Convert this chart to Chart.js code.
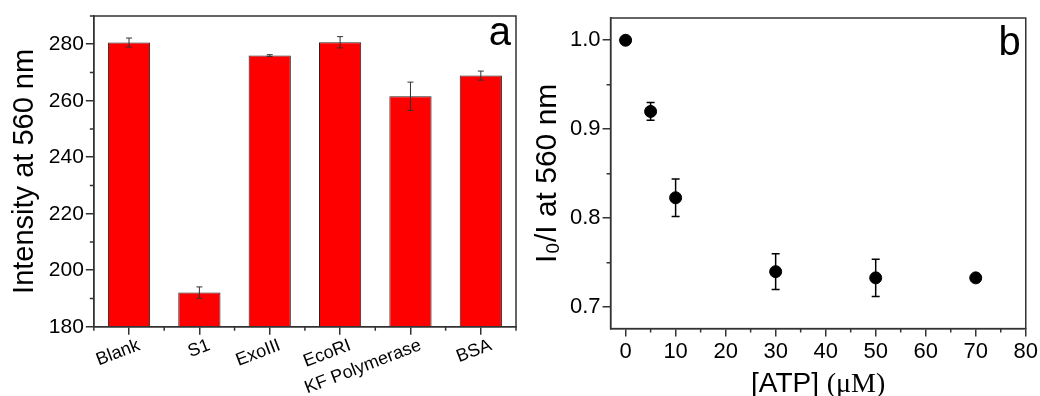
<!DOCTYPE html>
<html>
<head>
<meta charset="utf-8">
<title>Enzyme selectivity and ATP response</title>
<script src="https://cdn.jsdelivr.net/npm/chart.js@4.4.1/dist/chart.umd.min.js"></script>
<style>
  html, body { margin: 0; padding: 0; background: #fff; }
  #wrap { position: relative; width: 1040px; height: 396px; }
  .panel { position: absolute; top: 0; height: 396px; }
  #panelA { left: 0; width: 530px; }
  #panelB { left: 530px; width: 510px; }
</style>
</head>
<body>
<div id="wrap">
  <div class="panel" id="panelA"><canvas id="enzyme_chart"></canvas></div>
  <div class="panel" id="panelB"><canvas id="atp_chart"></canvas></div>
</div>
<script>
// panel a: fluorescence intensity with different enzymes
const enzymes = ['Blank', 'S1', 'ExoIII', 'EcoRI', 'KF Polymerase', 'BSA'];
const intensity = [280.6, 192.1, 276.0, 280.7, 261.6, 268.9];
const intensityErr = [1.6, 2.0, 0.3, 2.0, 5.0, 1.6];

// panel b: I0/I against ATP concentration
const atpConc = [0, 5, 10, 30, 50, 70];
const ratio = [1.000, 0.920, 0.823, 0.740, 0.733, 0.733];
const ratioErr = [0, 0.010, 0.021, 0.020, 0.021, 0];

const sans = '"Liberation Sans", Arial, sans-serif';
const serif = '"Liberation Serif", "Times New Roman", serif';
const axisColor = '#333';

Chart.defaults.font.family = sans;
Chart.defaults.color = '#000';

// major ticks keep the grid colour, minor ones (empty label) are drawn short by minorTickPlugin
function majorTickColor(ctx) {
    return ctx.tick && ctx.tick.label !== '' ? axisColor : 'rgba(0,0,0,0)';
}

// box round the plot area plus the panel letter
const framePlugin = {
    id: 'frame',
    afterDraw: function(chart, args, opts) {
        var a = chart.chartArea;
        var ctx = chart.ctx;
        ctx.save();
        ctx.strokeStyle = axisColor;
        ctx.lineWidth = 1.5;
        ctx.strokeRect(a.left, a.top, a.right - a.left, a.bottom - a.top);
        if (opts.letter) {
            ctx.fillStyle = '#000';
            ctx.font = '40px ' + sans;
            ctx.textAlign = 'right';
            ctx.textBaseline = 'alphabetic';
            ctx.fillText(opts.letter, a.right - 5, a.top + opts.letterDrop);
        }
        ctx.restore();
    }
};

// short minor ticks for every tick that has no label
const minorTickPlugin = {
    id: 'minorTicks',
    afterDraw: function(chart, args, opts) {
        var ctx = chart.ctx;
        var a = chart.chartArea;
        ctx.save();
        ctx.strokeStyle = axisColor;
        ctx.lineWidth = 1.5;
        ctx.beginPath();
        ['x', 'y'].forEach(function(id) {
            var scale = chart.scales[id];
            if (!scale || scale.type === 'category') return;
            scale.ticks.forEach(function(t) {
                if (t.label !== '') return;
                var p = scale.getPixelForValue(t.value);
                if (id === 'x') { ctx.moveTo(p, a.bottom); ctx.lineTo(p, a.bottom + opts.len); }
                else { ctx.moveTo(a.left, p); ctx.lineTo(a.left - opts.len, p); }
            });
        });
        // category boundaries on a bar chart
        var x = chart.scales.x;
        if (x && x.type === 'category') {
            var n = chart.data.labels.length;
            var step = x.getPixelForValue(1) - x.getPixelForValue(0);
            for (var i = 0; i <= n; i++) {
                var px = x.getPixelForValue(0) - step / 2 + i * step;
                ctx.moveTo(px, a.bottom);
                ctx.lineTo(px, a.bottom + opts.len);
            }
        }
        ctx.stroke();
        ctx.restore();
    }
};

// vertical error bars with caps
const errorBarPlugin = {
    id: 'errorBars',
    afterDatasetsDraw: function(chart, args, opts) {
        var meta = chart.getDatasetMeta(0);
        var yScale = chart.scales.y;
        var values = chart.data.datasets[0].data;
        var ctx = chart.ctx;
        ctx.save();
        ctx.strokeStyle = opts.color;
        ctx.lineWidth = opts.width;
        meta.data.forEach(function(el, i) {
            var v = typeof values[i] === 'object' ? values[i].y : values[i];
            var e = opts.errors[i];
            if (!e) return;
            var top = yScale.getPixelForValue(v + e);
            var bot = yScale.getPixelForValue(v - e);
            ctx.beginPath();
            ctx.moveTo(el.x, top); ctx.lineTo(el.x, bot);
            ctx.moveTo(el.x - opts.cap, top); ctx.lineTo(el.x + opts.cap, top);
            ctx.moveTo(el.x - opts.cap, bot); ctx.lineTo(el.x + opts.cap, bot);
            ctx.stroke();
        });
        ctx.restore();
    }
};

// x title of panel b, "(μM)" set in a serif face
const atpTitlePlugin = {
    id: 'atpTitle',
    afterDraw: function(chart) {
        var a = chart.chartArea;
        var ctx = chart.ctx;
        var part1 = '[ATP] ';
        var part2 = '(\u03bcM)';
        ctx.save();
        ctx.font = '28px ' + sans;
        var w1 = ctx.measureText(part1).width;
        ctx.font = '28px ' + serif;
        var w2 = ctx.measureText(part2).width;
        var x0 = (a.left + a.right) / 2 - (w1 + w2) / 2;
        var y0 = chart.height - 4;
        ctx.fillStyle = '#000';
        ctx.textAlign = 'left';
        ctx.textBaseline = 'alphabetic';
        ctx.font = '28px ' + sans;
        ctx.fillText(part1, x0, y0);
        ctx.font = '28px ' + serif;
        ctx.fillText(part2, x0 + w1, y0);
        ctx.restore();
    }
};

document.addEventListener("DOMContentLoaded", function() {
    var enzymeItem = document.getElementById("enzyme_chart");

    if (enzymeItem) {
        var data = {
            labels: enzymes,
            datasets: [{
                data: intensity,
                backgroundColor: '#ff0000',
                borderColor: '#222',
                borderWidth: 1,
                barPercentage: 0.6,
                categoryPercentage: 1
            }]
        };

        var options = {
            responsive: true,
            maintainAspectRatio: false,
            animation: false,
            layout: { padding: { top: 16, right: 14, left: 8, bottom: -3 } },
            plugins: {
                legend: { display: false },
                tooltip: { enabled: false },
                frame: { letter: 'a', letterDrop: 29 },
                minorTicks: { len: 4 },
                errorBars: { errors: intensityErr, color: '#333', width: 1, cap: 3 }
            },
            scales: {
                x: {
                    grid: { drawOnChartArea: false, offset: false, tickLength: 8, color: axisColor, lineWidth: 1.5 },
                    border: { color: axisColor, width: 1.5 },
                    ticks: { font: { size: 18 }, minRotation: 21, maxRotation: 21, padding: 0, labelOffset: 10, autoSkip: false }
                },
                y: {
                    min: 180,
                    max: 290,
                    grid: { drawOnChartArea: false, tickLength: 8, color: axisColor, tickColor: majorTickColor, lineWidth: 1.5 },
                    border: { color: axisColor, width: 1.5 },
                    ticks: {
                        stepSize: 10,
                        autoSkip: false,
                        font: { size: 21 },
                        padding: 2,
                        callback: function(v) { return v % 20 === 0 ? v : ''; }
                    },
                    title: { display: true, text: 'Intensity at 560 nm', font: { size: 29 }, padding: { top: 0, bottom: 4 } }
                }
            }
        };

        new Chart(enzymeItem, {
            type: 'bar',
            data: data,
            options: options,
            plugins: [framePlugin, errorBarPlugin, minorTickPlugin]
        });
    }
});

document.addEventListener("DOMContentLoaded", function() {
    var atpItem = document.getElementById("atp_chart");

    if (atpItem) {
        var points = atpConc.map(function(c, i) { return { x: c, y: ratio[i] }; });

        var data = {
            datasets: [{
                data: points,
                backgroundColor: '#000',
                borderColor: '#000',
                pointRadius: 6,
                showLine: false
            }]
        };

        var options = {
            responsive: true,
            maintainAspectRatio: false,
            animation: false,
            layout: { padding: { top: 18, right: 14, left: 0, bottom: 29 } },
            plugins: {
                legend: { display: false },
                tooltip: { enabled: false },
                frame: { letter: 'b', letterDrop: 37 },
                minorTicks: { len: 4 },
                errorBars: { errors: ratioErr, color: '#000', width: 1.5, cap: 4 }
            },
            scales: {
                x: {
                    type: 'linear',
                    min: -3,
                    max: 80,
                    grid: { drawOnChartArea: false, tickLength: 8, color: axisColor, tickColor: majorTickColor, lineWidth: 1.5 },
                    border: { color: axisColor, width: 1.5 },
                    ticks: {
                        stepSize: 5,
                        includeBounds: false,
                        autoSkip: false,
                        maxRotation: 0,
                        font: { size: 22 },
                        padding: 2,
                        callback: function(v) { return v % 10 === 0 ? v : ''; }
                    }
                },
                y: {
                    min: 0.676,
                    max: 1.025,
                    grid: { drawOnChartArea: false, tickLength: 8, color: axisColor, tickColor: majorTickColor, lineWidth: 1.5 },
                    border: { color: axisColor, width: 1.5 },
                    ticks: {
                        stepSize: 0.05,
                        includeBounds: false,
                        autoSkip: false,
                        font: { size: 22 },
                        padding: 2,
                        callback: function(v) {
                            return Math.abs(v * 10 - Math.round(v * 10)) < 1e-6 ? v.toFixed(1) : '';
                        }
                    },
                    title: { display: true, text: 'I\u2080/I at 560 nm', font: { size: 30 }, padding: { top: 0, bottom: 2 } }
                }
            }
        };

        new Chart(atpItem, {
            type: 'scatter',
            data: data,
            options: options,
            plugins: [framePlugin, errorBarPlugin, minorTickPlugin, atpTitlePlugin]
        });
    }
});
</script>
</body>
</html>
